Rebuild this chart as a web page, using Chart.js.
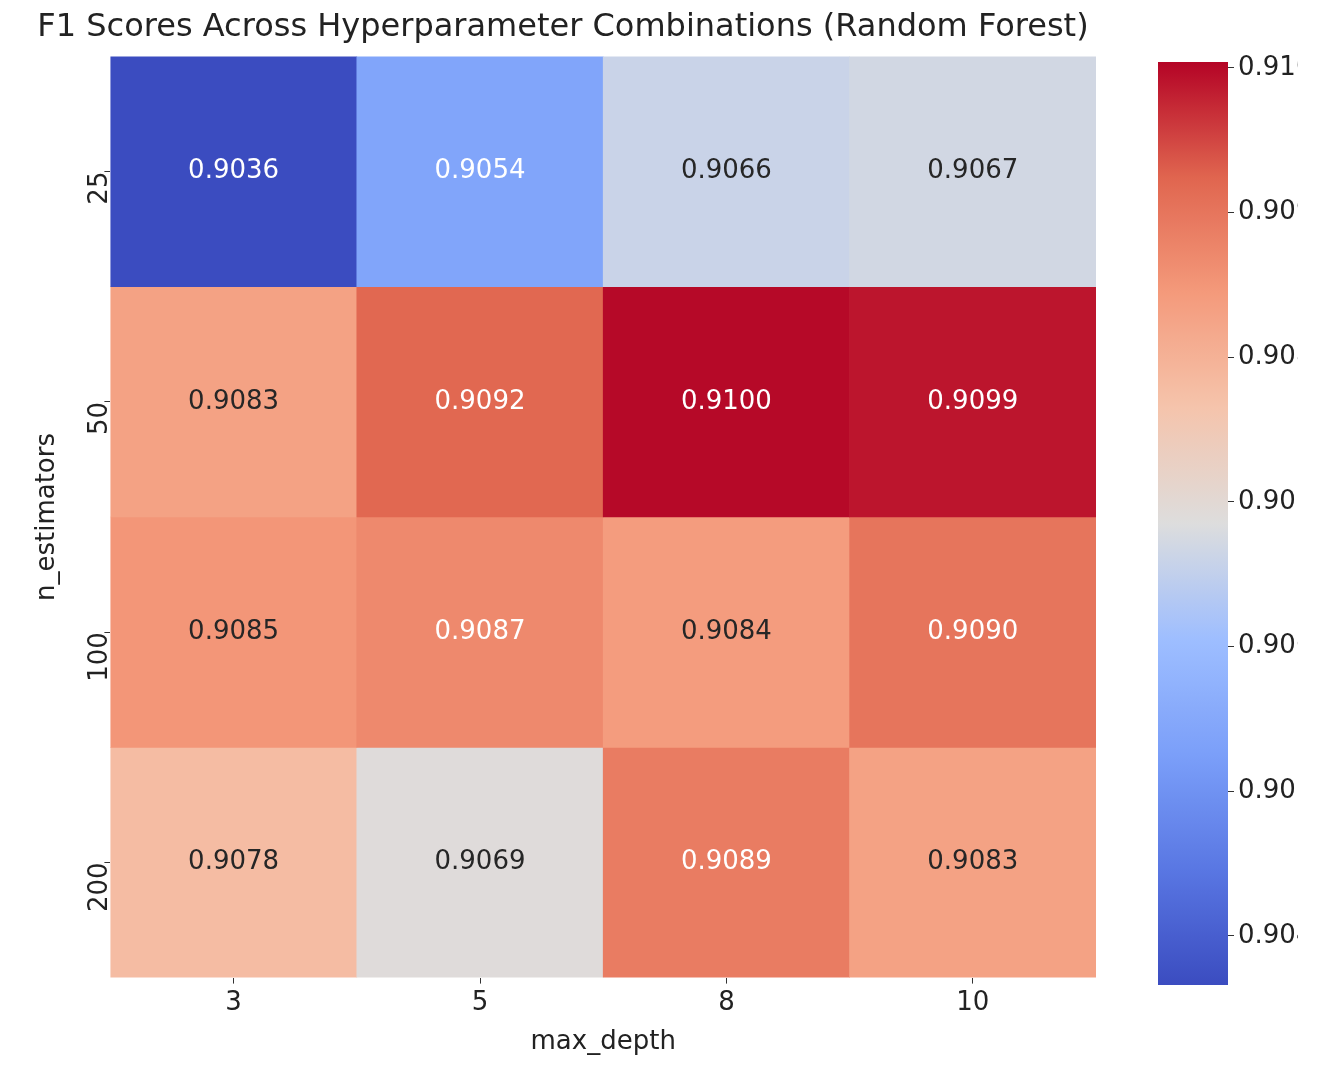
<!DOCTYPE html>
<html><head><meta charset="utf-8">
<script src="https://cdn.jsdelivr.net/npm/chart.js@4.4.1/dist/chart.umd.min.js"></script>
<style>
body{margin:0;background:#fff;}
#wrap1{position:absolute;left:0;top:0;width:1130px;height:1084px;}
#wrap2{position:absolute;left:1130px;top:0;width:188px;height:1084px;}
</style></head><body>
<div id="wrap1"><canvas id="heat"></canvas></div>
<div id="wrap2"><canvas id="cbar"></canvas></div>
<script>
// data
var maxDepth = ['3', '5', '8', '10'];
var nEstimators = ['25', '50', '100', '200'];
var f1Scores = [
  [0.9036, 0.9054, 0.9066, 0.9067],
  [0.9083, 0.9092, 0.9100, 0.9099],
  [0.9085, 0.9087, 0.9084, 0.9090],
  [0.9078, 0.9069, 0.9089, 0.9083]
];
var colorbarTicks = [0.904, 0.905, 0.906, 0.907, 0.908, 0.909, 0.910];
var vmin = 0.90366, vmax = 0.91004;

// coolwarm anchors
var cw = [[59,76,192],[89,119,227],[123,159,249],[158,190,255],[221,221,221],[245,196,172],[244,154,123],[224,101,79],[180,4,38]];
function cmap(v) {
  var t = Math.max(0, Math.min(1, (v - vmin) / (vmax - vmin))) * (cw.length - 1);
  var i = Math.min(Math.floor(t), cw.length - 2), f = t - i;
  return cw[i].map(function (c, k) { return Math.round(c + (cw[i + 1][k] - c) * f); });
}
function rgb(c) { return 'rgb(' + c.join(',') + ')'; }
function lum(c) {
  var l = c.map(function (x) { x /= 255; return x <= 0.03928 ? x / 12.92 : Math.pow((x + 0.055) / 1.055, 2.4); });
  return 0.2126 * l[0] + 0.7152 * l[1] + 0.0722 * l[2];
}

var font = "'DejaVu Sans', sans-serif";
Chart.defaults.font.family = font;
Chart.defaults.color = '#222';

var datasets = f1Scores.map(function (row, r) {
  return {
    data: row.map(function () { return [r, r + 1]; }),
    backgroundColor: row.map(function (v) { return rgb(cmap(v)); }),
    barPercentage: 1, categoryPercentage: 1, borderWidth: 0
  };
});

var cellText = {
  id: 'cellText',
  afterDatasetsDraw: function (chart) {
    var ctx = chart.ctx;
    ctx.save();
    ctx.font = '26px ' + font;
    ctx.textAlign = 'center';
    ctx.textBaseline = 'middle';
    chart.data.datasets.forEach(function (ds, r) {
      chart.getDatasetMeta(r).data.forEach(function (el, c) {
        var v = f1Scores[r][c];
        ctx.fillStyle = lum(cmap(v)) > 0.408 ? '#262626' : '#ffffff';
        ctx.fillText(v.toFixed(4), el.x, (el.y + el.base) / 2);
      });
    });
    ctx.restore();
  }
};

new Chart(document.getElementById('heat'), {
  type: 'bar',
  data: { labels: maxDepth, datasets: datasets },
  plugins: [cellText],
  options: {
    responsive: true, maintainAspectRatio: false, animation: false,
    layout: { padding: { top: 4, left: 30, right: 34, bottom: 22 } },
    plugins: {
      legend: { display: false }, tooltip: { enabled: false },
      title: { display: true, text: 'F1 Scores Across Hyperparameter Combinations (Random Forest)',
        font: { size: 32, weight: 'normal' }, color: '#222', padding: { top: 4, bottom: 10 } }
    },
    scales: {
      x: {
        stacked: true,
        grid: { drawOnChartArea: false, offset: false, tickLength: 6, color: '#333' }, border: { display: false },
        ticks: { font: { size: 26 }, color: '#222', padding: 4 },
        title: { display: true, text: 'max_depth', font: { size: 26 }, color: '#222', padding: 4 }
      },
      y: {
        min: 0, max: 4, reverse: true,
        afterBuildTicks: function (ax) { ax.ticks = nEstimators.map(function (_, i) { return { value: i + 0.5 }; }); },
        grid: { drawOnChartArea: false, tickLength: 6, color: '#333' }, border: { display: false },
        ticks: { font: { size: 26 }, color: '#222', minRotation: 90, maxRotation: 90, padding: 4,
          callback: function (v) { return nEstimators[Math.floor(v)]; } },
        title: { display: true, text: 'n_estimators', font: { size: 26 }, color: '#222', padding: 2 }
      }
    }
  }
});

new Chart(document.getElementById('cbar'), {
  type: 'bar',
  data: { labels: [''], datasets: [{
    data: [[vmin, vmax]], borderWidth: 0, barPercentage: 1, categoryPercentage: 1,
    backgroundColor: function (c) {
      var a = c.chart.chartArea;
      if (!a) return '#ccc';
      var g = c.chart.ctx.createLinearGradient(0, a.bottom, 0, a.top);
      for (var i = 0; i <= 40; i++) g.addColorStop(i / 40, rgb(cmap(vmin + (vmax - vmin) * i / 40)));
      return g;
    }
  }] },
  options: {
    responsive: true, maintainAspectRatio: false, animation: false,
    layout: { padding: { top: 62, bottom: 99, left: 28, right: 20 } },
    plugins: { legend: { display: false }, tooltip: { enabled: false } },
    scales: {
      x: { display: false },
      y: {
        position: 'right', min: vmin, max: vmax,
        afterBuildTicks: function (ax) { ax.ticks = colorbarTicks.map(function (v) { return { value: v }; }); },
        grid: { drawOnChartArea: false, tickLength: 6, color: '#333' }, border: { display: false },
        ticks: { font: { size: 26 }, color: '#222', padding: 4, callback: function (v) { return v.toFixed(3); } }
      }
    }
  }
});
</script>
</body></html>
